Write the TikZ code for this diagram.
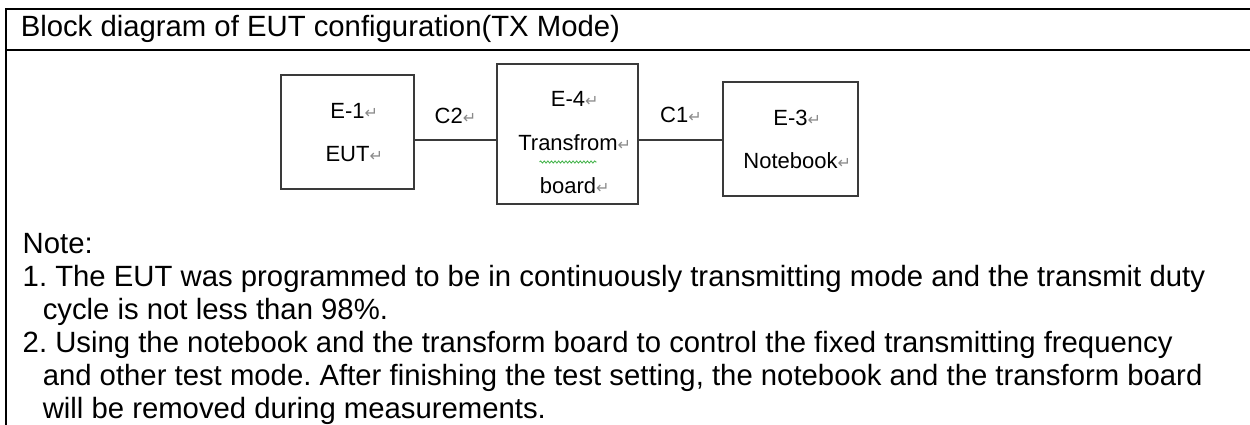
\documentclass[tikz,border=0pt]{standalone}
\usepackage{fontspec}
\setmainfont{Liberation Sans}
\newfontfamily\markfont{DejaVu Sans}
\usetikzlibrary{decorations.pathmorphing}

\definecolor{boxgray}{HTML}{3A3A3A}
\definecolor{markgray}{HTML}{8A8A8A}
\definecolor{spellgreen}{HTML}{3CB043}

\frenchspacing

\begin{document}
\begin{tikzpicture}[x=1pt,y=-1pt,line width=1.5pt,
    txt/.style={inner sep=0pt,anchor=base west,font=\fontsize{29.3}{33}\selectfont},
    lbl/.style={inner sep=0pt,anchor=base,font=\fontsize{22}{26}\selectfont},
    eqbox/.style 2 args={draw=boxgray,line width=1.4pt,minimum width=#1,minimum height=#2,inner sep=0pt},
    link/.style={draw=boxgray,line width=1.4pt},
    frame/.style={draw=black,line width=2pt},
    spell/.style={draw=spellgreen,line width=0.8pt,decorate,
      decoration={snake,amplitude=1.1pt,segment length=3.6pt}}]

    \def\pmark{{\markfont\fontsize{16}{16}\selectfont\color{markgray}^^^^21b5}}

    \useasboundingbox (0,0) rectangle (1250,425);

    % table frame
    \draw[frame] (6,425) -- (6,9) -- (1250,9);
    \draw[frame] (6,50) -- (1250,50);

    \node[txt] (title) at (20,37) {Block diagram of EUT configuration(TX Mode)};

    % equipment
    \node[eqbox={133}{114}] (eut)   at (347.5,132) {};
    \node[eqbox={141}{140}] (board) at (567.5,134) {};
    \node[eqbox={135}{114}] (nb)    at (790.5,139) {};

    \node[lbl] (eutid)   at (347.5,119) {E-1\rlap{\pmark}};
    \node[lbl] (eutname) at (347.5,161) {EUT\rlap{\pmark}};
    \node[lbl] (bdid)    at (568,107)   {E-4\rlap{\pmark}};
    \node[lbl] (bdname)  at (568,150)   {Transfrom\rlap{\pmark}};
    \node[lbl] (bdname2) at (568,193)   {board\rlap{\pmark}};
    \node[lbl] (nbid)    at (790.5,126) {E-3\rlap{\pmark}};
    \node[lbl] (nbname)  at (790.5,168) {Notebook\rlap{\pmark}};

    \draw[spell] (bdname.base west) ++(22,12) -- ++(57,0);

    % cables
    \coordinate (wirey) at (0,140);
    \draw[link] (eut.east |- wirey) -- (board.west |- wirey);
    \draw[link] (board.east |- wirey) -- (nb.west |- wirey);
    \node[lbl] (c2) at (455.5,124) {C2\pmark};
    \node[lbl] (c1) at (681,123)   {C1\pmark};

    % notes
    \node[txt] (note) at (22,253) {Note:};
    \node[txt] (n1a)  at (22,286) {1. The EUT was programmed to be in continuously transmitting mode and the transmit duty};
    \node[txt] (n1b)  at (42,319) {cycle is not less than 98\%.};
    \node[txt] (n2a)  at (22,352) {2. Using the notebook and the transform board to control the fixed transmitting frequency};
    \node[txt] (n2b)  at (42,385) {and other test mode. After finishing the test setting, the notebook and the transform board};
    \node[txt] (n2c)  at (42,418) {will be removed during measurements.};

\end{tikzpicture}
\end{document}
